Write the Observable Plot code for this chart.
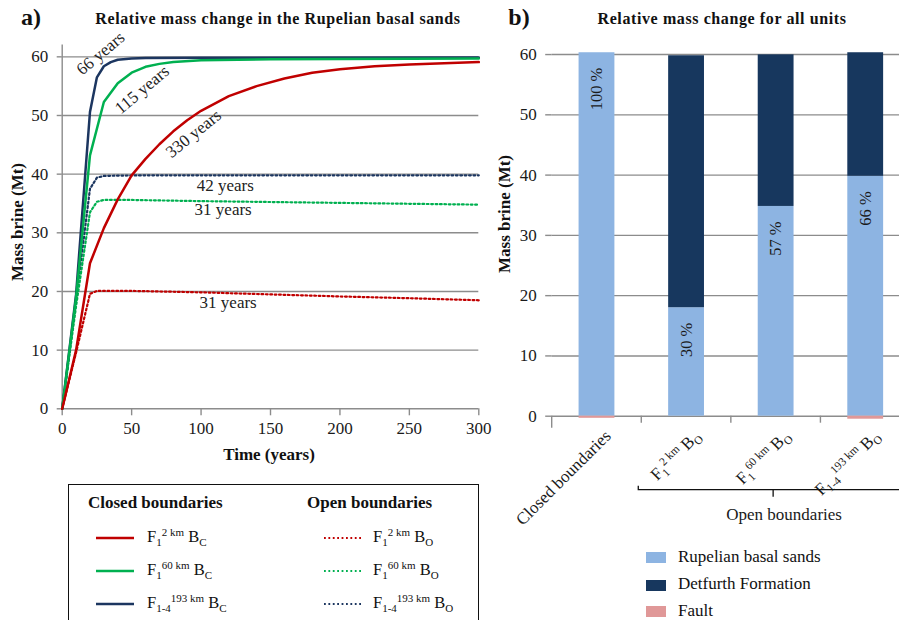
<!DOCTYPE html>
<html><head><meta charset="utf-8">
<script src="https://cdn.jsdelivr.net/npm/d3@7"></script>
<script src="https://cdn.jsdelivr.net/npm/@observablehq/plot@0.6"></script>
<style>
html,body{margin:0;padding:0;background:#fff;overflow:hidden}
#root{position:relative;width:899px;height:620px;overflow:hidden;font-family:"Liberation Serif","Times New Roman",serif;color:#111;background:#fff}
.abs{position:absolute;white-space:nowrap}
.c{transform:translate(-50%,-50%)}
.title{font-weight:bold;font-size:16px;letter-spacing:0.6px}
.panel{font-weight:bold;font-size:24px}
.axt{font-weight:bold;font-size:17px}
.lg{font-size:16.5px;line-height:16px}
.lg sub,.lg sup{font-size:11px;line-height:0}
.lg sub{vertical-align:-4px}
.lg sup{vertical-align:6px}
</style></head><body>
<div id="root">
<div id="left" class="abs" style="left:0;top:0;width:490px;height:480px"></div>
<div id="right" class="abs" style="left:480px;top:0;width:430px;height:620px"></div>
<div class="abs panel c" style="left:31px;top:17px">a)</div>
<div class="abs title c" style="left:278px;top:19px">Relative mass change in the Rupelian basal sands</div>
<div class="abs panel c" style="left:519px;top:17px">b)</div>
<div class="abs title c" style="left:722px;top:19px">Relative mass change for all units</div>
<div class="abs axt c" style="left:269px;top:455px">Time (years)</div>
<div class="abs axt c" style="left:18px;top:222px;transform:translate(-50%,-50%) rotate(-90deg)">Mass brine (Mt)</div>
<div class="abs axt c" style="left:505px;top:214px;transform:translate(-50%,-50%) rotate(-90deg)">Mass brine (Mt)</div>
<div class="abs" style="left:68px;top:484px;width:409px;height:200px;border:1.5px solid #111"></div>
<div id="legendLeft"></div>
<div id="legendRight"></div>
</div>
<script>
// ---------- Panel a) data ----------
const timeRedClosed   = [0,10,20,30,40,50,60,70,80,90,100,120,140,160,180,200,225,250,275,300];
const massRedClosed   = [0,10,24.8,30.8,35.7,39.8,42.6,45.1,47.3,49.2,50.8,53.3,55.0,56.3,57.3,57.9,58.4,58.7,58.9,59.1];
const timeGreenClosed = [0,10,20,30,40,50,60,70,80,100,150,200,300];
const massGreenClosed = [0,19,43.2,52.3,55.5,57.3,58.3,58.8,59.1,59.4,59.6,59.65,59.7];
const timeBlueClosed  = [0,10,20,25,30,35,40,50,60,100,300];
const massBlueClosed  = [0,19.5,50.6,56.5,58.4,59.1,59.5,59.7,59.8,59.85,59.9];
const timeRedOpen     = [0,10,20,25,50,100,150,200,250,300];
const massRedOpen     = [0,9.6,19.6,20.1,20.1,19.85,19.5,19.15,18.85,18.5];
const timeGreenOpen   = [0,10,20,25,30,50,100,150,200,250,300];
const massGreenOpen   = [0,17.5,33.5,35.3,35.6,35.6,35.4,35.25,35.1,34.95,34.8];
const timeBlueOpen    = [0,10,20,25,30,40,60,100,200,300];
const massBlueOpen    = [0,18.5,37.5,39.4,39.7,39.75,39.8,39.8,39.8,39.8];
const closedNames = ["F_{1}^{2 km} B_{C}", "F_{1}^{60 km} B_{C}", "F_{1-4}^{193 km} B_{C}"];
const openNames   = ["F_{1}^{2 km} B_{O}", "F_{1}^{60 km} B_{O}", "F_{1-4}^{193 km} B_{O}"];
const timeTicks = [0,50,100,150,200,250,300];
const massTicks = [0,10,20,30,40,50,60];
const noteText = ["66 years","115 years","330 years","42 years","31 years","31 years"];
const noteTime = [27.6, 57.5, 94.6, 117.4, 115.9, 119.5];
const noteMass = [60.6, 54.4, 46.9, 38.0, 34.0, 18.1];
const noteAngle = [-40, -40, -39, 0, 0, 0];

// ---------- Panel b) data ----------
const categories = ["Closed boundaries", "F_{1}^{2 km} B_{O}", "F_{1}^{60 km} B_{O}", "F_{1-4}^{193 km} B_{O}"];
const units = ["Rupelian basal sands", "Detfurth Formation", "Fault"];
const rupelian = [60.3, 18.0, 34.8, 39.8];
const detfurth = [0, 41.8, 25.15, 20.5];
const fault    = [-0.35, 0, 0, -0.5];
const percentLabels = ["100 %", "30 %", "57 %", "66 %"];
const groupLabel = "Open boundaries";

// ---------- styles ----------
const lineColors = ["#c00000", "#00b050", "#1c3660"];
const unitColors = ["#8db4e2", "#17375e", "#e09898"];
const gridColor = "#8c8c8c";
const FONT = "Liberation Serif";
const DOTS = "1.8,2.6";

const svgNS = "http://www.w3.org/2000/svg";
function richify(root) {
  root.querySelectorAll("text").forEach(el => {
    const s = el.textContent;
    if (!/[_^]\{/.test(s)) return;
    el.textContent = "";
    const re = /_\{([^}]*)\}|\^\{([^}]*)\}|([^_^]+)/g;
    let shift = 0, m;
    while ((m = re.exec(s))) {
      const t = document.createElementNS(svgNS, "tspan");
      let target = 0, txt;
      if (m[1] != null) { target = 4; txt = m[1]; t.setAttribute("font-size", "11.5"); }
      else if (m[2] != null) { target = -6; txt = m[2]; t.setAttribute("font-size", "11.5"); }
      else { txt = m[3]; }
      t.setAttribute("dy", target - shift);
      shift = target;
      t.textContent = txt;
      el.appendChild(t);
    }
  });
}
function toHTML(s) {
  return s.replace(/_\{([^}]*)\}/g, "<sub>$1</sub>").replace(/\^\{([^}]*)\}/g, "<sup>$1</sup>");
}

// ---------- Panel a) ----------
const seriesDefs = [
  {t: timeRedClosed, m: massRedClosed, c: 0, open: false},
  {t: timeGreenClosed, m: massGreenClosed, c: 1, open: false},
  {t: timeBlueClosed, m: massBlueClosed, c: 2, open: false},
  {t: timeRedOpen, m: massRedOpen, c: 0, open: true},
  {t: timeGreenOpen, m: massGreenOpen, c: 1, open: true},
  {t: timeBlueOpen, m: massBlueOpen, c: 2, open: true}
];
const lineMarks = [...seriesDefs].reverse().map(s => Plot.line(s.t.map((t, i) => ({t, m: s.m[i]})), {
  x: "t", y: "m", stroke: lineColors[s.c],
  strokeWidth: s.open ? 2.2 : 2.5,
  strokeDasharray: s.open ? DOTS : null,
  strokeLinejoin: "round"
}));
const notes = noteText.map((text, i) => ({text, t: noteTime[i], m: noteMass[i], a: noteAngle[i]}));

const left = Plot.plot({
  width: 490, height: 480,
  marginLeft: 61.7, marginRight: 11.7, marginTop: 44.6, marginBottom: 71.7,
  style: {background: "transparent", overflow: "visible", fontFamily: FONT, fontSize: "17px", color: "#1a1a1a"},
  x: {domain: [0, 300], axis: null},
  y: {domain: [0, 62], axis: null},
  marks: [
    Plot.gridY({ticks: massTicks.slice(1), stroke: gridColor, strokeOpacity: 1, strokeWidth: 1.4}),
    Plot.ruleY([0], {stroke: gridColor, strokeWidth: 1.4}),
    Plot.ruleX([0], {y1: 0, y2: 62, stroke: gridColor, strokeWidth: 1.4}),
    Plot.axisX({ticks: timeTicks, tickSize: 7, tickPadding: 6, stroke: gridColor, strokeWidth: 1.4, fontSize: 17, fontFamily: FONT, label: null}),
    Plot.axisY({ticks: massTicks, tickSize: 5, tickPadding: 9, stroke: gridColor, strokeWidth: 1.4, fontSize: 17, fontFamily: FONT, label: null}),
    ...lineMarks,
    ...notes.map(n => Plot.text([n], {x: "t", y: "m", text: "text", rotate: n.a, fontSize: 17, fontFamily: FONT, fill: "#222"}))
  ]
});
document.getElementById("left").appendChild(left);

// ---------- Panel b) ----------
const unitValues = [rupelian, detfurth, fault];
const barData = categories.flatMap((cat, i) => units.map((u, k) => ({cat, unit: u, v: unitValues[k][i]})));
const pctData = categories.map((cat, i) => ({cat, v: rupelian[i], label: percentLabels[i]}));

function categoryFurniture(index, scales, values, dimensions) {
  const x = scales.x, y = scales.y;
  const starts = categories.map(c => x(c));
  const step = starts[1] - starts[0];
  const bw = typeof x.bandwidth === "function" ? x.bandwidth() : 0.4 * step;
  const centers = starts.map(s => s + bw / 2);
  const bounds = [dimensions.marginLeft];
  for (let i = 1; i < centers.length; i++) bounds.push((centers[i - 1] + centers[i]) / 2);
  const rightEdge = dimensions.width - dimensions.marginRight;
  const y0 = y(0);
  const g = document.createElementNS(svgNS, "g");
  const add = (tag, attrs, txt) => {
    const e = document.createElementNS(svgNS, tag);
    for (const k in attrs) e.setAttribute(k, attrs[k]);
    if (txt) e.textContent = txt;
    g.appendChild(e);
    return e;
  };
  bounds.forEach((b, i) => add("line", {x1: b, x2: b, y1: y0, y2: y0 + (i === 0 ? 12 : 7), stroke: gridColor, "stroke-width": 1.4}));
  const by = y0 + 74;
  const bx1 = bounds[1] - 3, bx2 = rightEdge, bm = (bounds[1] + bx2) / 2 - 2.5;
  add("path", {d: `M${bx1},${by - 4}V${by}H${bx2}M${bm},${by}V${by + 7}`, fill: "none", stroke: "#111", "stroke-width": 1.3});
  add("text", {x: bm + 11, y: by + 30, "text-anchor": "middle", "font-size": 17, "font-family": FONT, fill: "#1a1a1a"}, groupLabel);
  return g;
}

const right = Plot.plot({
  width: 430, height: 620,
  marginLeft: 71.7, marginRight: 0, marginTop: 42, marginBottom: 204.3,
  style: {background: "transparent", overflow: "visible", fontFamily: FONT, fontSize: "17px", color: "#1a1a1a"},
  x: {domain: categories, axis: null, paddingInner: 0.6, paddingOuter: 0.3, align: 0.5, round: false},
  y: {domain: [0, 62], axis: null},
  color: {domain: units, range: unitColors},
  marks: [
    Plot.gridY({ticks: massTicks.slice(1), stroke: gridColor, strokeOpacity: 1, strokeWidth: 1.4}),
    Plot.ruleY([0], {stroke: gridColor, strokeWidth: 1.4}),
    Plot.barY(barData, {x: "cat", y: "v", fill: "unit"}),
    Plot.ruleX([0], {y1: 0, y2: 62, stroke: gridColor, strokeWidth: 1.4, frameAnchor: "left"}),
    Plot.axisY({ticks: massTicks, tickSize: 6.5, tickPadding: 9, stroke: gridColor, strokeWidth: 1.4, fontSize: 17, fontFamily: FONT, label: null}),
    Plot.text(pctData, {x: "cat", y: "v", text: "label", rotate: -90, textAnchor: "end", dy: 15, fontSize: 16.5, fontFamily: FONT, fill: "#1a1a1a"}),
    Plot.text(categories, {x: d => d, y: 0, text: d => d, rotate: -45, textAnchor: "end", dx: 11, dy: 17, fontSize: 17, fontFamily: FONT, fill: "#1a1a1a"}),
    categoryFurniture
  ]
});
richify(right);
document.getElementById("right").appendChild(right);

// ---------- Legends ----------
const lgL = document.getElementById("legendLeft");
const rowY = [538, 571, 604];
let html = `<div class="abs axt" style="left:88px;top:493px">Closed boundaries</div>
<div class="abs axt" style="left:307px;top:493px">Open boundaries</div>`;
closedNames.forEach((n, i) => {
  html += `<svg class="abs" style="left:96px;top:${rowY[i] - 3}px" width="38" height="6"><line x1="0" x2="38" y1="3" y2="3" stroke="${lineColors[i]}" stroke-width="2.5"/></svg>`;
  html += `<div class="abs lg" style="left:147px;top:${rowY[i] - 9}px">${toHTML(n)}</div>`;
});
openNames.forEach((n, i) => {
  html += `<svg class="abs" style="left:324px;top:${rowY[i] - 3}px" width="37" height="6"><line x1="0" x2="37" y1="3" y2="3" stroke="${lineColors[i]}" stroke-width="2.2" stroke-dasharray="${DOTS}"/></svg>`;
  html += `<div class="abs lg" style="left:373px;top:${rowY[i] - 9}px">${toHTML(n)}</div>`;
});
lgL.innerHTML = html;

const lgR = document.getElementById("legendRight");
const swY = [557.5, 585, 611.5];
lgR.innerHTML = units.map((u, i) =>
  `<div class="abs" style="left:646px;top:${swY[i] - 5.5}px;width:20px;height:11px;background:${unitColors[i]}"></div>` +
  `<div class="abs lg" style="left:678px;top:${swY[i] - 9}px;font-size:17px">${u}</div>`).join("");
</script>
</body></html>
